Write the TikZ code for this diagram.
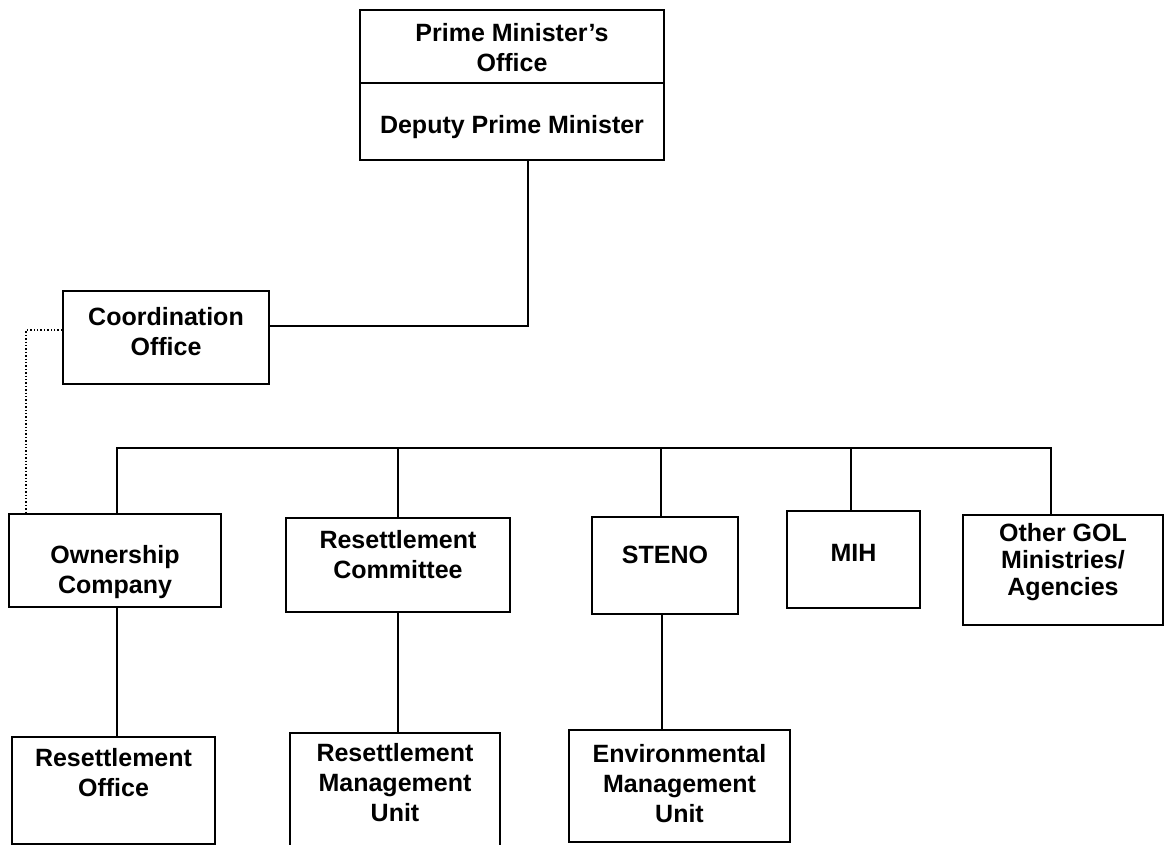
\documentclass[tikz,border=0pt]{standalone}
\usepackage{fontspec}
\setmainfont{Liberation Sans}
% box label: a centred stack of lines, drawn #1 higher than the box centre
\newcommand\boxtext[2]{\raisebox{#1}[\height][\depth]{\begin{tabular}{@{}c@{}}#2\end{tabular}}}
\begin{document}
\begin{tikzpicture}[x=1pt,y=-1pt,
  orgbox/.style={draw, line width=1.8pt, inner sep=0pt,
    font=\fontsize{25}{30}\selectfont\bfseries},
  link/.style={line width=1.8pt},
  dotlink/.style={line width=1.4pt, dotted}]
\useasboundingbox (0,0) rectangle (1165,845);
\clip (0,0) rectangle (1165,845);

% top office
\node[orgbox, minimum width=304pt, minimum height=73pt] (pmo) at (512,46.5)
  {\boxtext{-4pt}{Prime Minister’s\\Office}};
\node[orgbox, minimum width=304pt, minimum height=77pt] (dpm) at (512,121.5)
  {\boxtext{-6pt}{Deputy Prime Minister}};

% coordination
\node[orgbox, minimum width=206pt, minimum height=93pt] (coord) at (166,337.5)
  {\boxtext{3pt}{Coordination\\Office}};

% second level
\node[orgbox, minimum width=212pt, minimum height=93pt] (own) at (115,560.5)
  {\boxtext{-12pt}{Ownership\\Company}};
\node[orgbox, minimum width=224pt, minimum height=94pt] (rc) at (398,565)
  {\boxtext{8pt}{Resettlement\\Committee}};
\node[orgbox, minimum width=146pt, minimum height=97pt] (steno) at (665,565.5)
  {\boxtext{8pt}{STENO}};
\node[orgbox, minimum width=133pt, minimum height=97pt] (mih) at (853.5,559.5)
  {\boxtext{4pt}{MIH}};
\node[orgbox, minimum width=200pt, minimum height=110pt,
  font=\fontsize{25}{27}\selectfont\bfseries] (other) at (1063,570)
  {\boxtext{7pt}{Other GOL\\Ministries/\\Agencies}};

% third level
\node[orgbox, minimum width=203pt, minimum height=107pt] (ro) at (113.5,790.5)
  {\boxtext{15pt}{Resettlement\\Office}};
\node[orgbox, minimum width=210pt, minimum height=125pt] (rmu) at (395,795.5)
  {\boxtext{10pt}{Resettlement\\Management\\Unit}};
\node[orgbox, minimum width=221pt, minimum height=112pt] (emu) at (679.5,786)
  {\boxtext{0pt}{Environmental\\Management\\Unit}};

% connectors
\coordinate (bus) at (0,448);
\draw[link] ([xshift=16pt]dpm.south) |- ([yshift=11.5pt]coord.east);
\draw[dotlink] ([yshift=7.5pt]coord.west) -| ([xshift=18pt]own.north west);
\draw[link] ([xshift=2pt]own.north) -- ([xshift=2pt]own.north |- bus)
  -- ([xshift=-12pt]other.north |- bus) -- ([xshift=-12pt]other.north);
\draw[link] (rc.north) -- (rc.north |- bus);
\draw[link] ([xshift=-4pt]steno.north) -- ([xshift=-4pt]steno.north |- bus);
\draw[link] ([xshift=-2.5pt]mih.north) -- ([xshift=-2.5pt]mih.north |- bus);
\draw[link] ([xshift=2pt]own.south) -- ([xshift=2pt]own.south |- ro.north);
\draw[link] (rc.south) -- (rc.south |- rmu.north);
\draw[link] ([xshift=-3pt]steno.south) -- ([xshift=-3pt]steno.south |- emu.north);
\end{tikzpicture}
\end{document}
